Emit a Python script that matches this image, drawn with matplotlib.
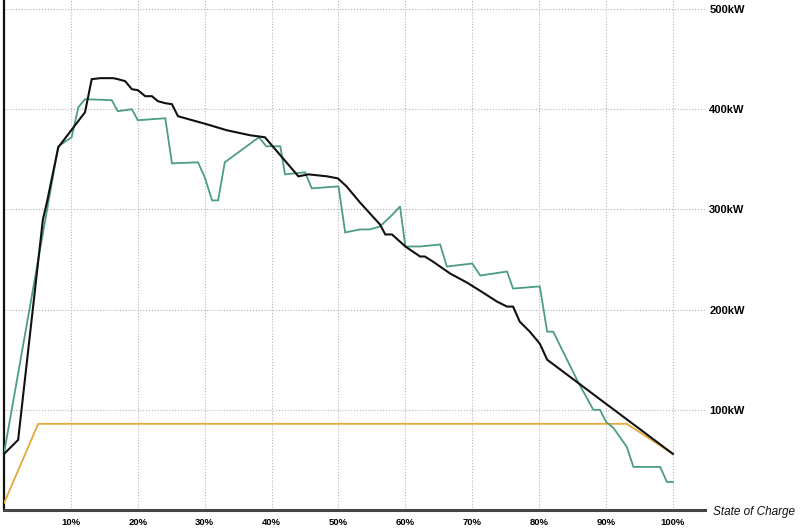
import matplotlib
matplotlib.use("Agg")
import matplotlib.pyplot as plt

# ---- data (State of Charge %, power kW) ----
black_soc = [0, 2.1, 5.8, 6.4, 8.1, 12.1, 13.1, 14.4, 16.3, 17, 18.1, 19.1, 20, 21.1, 22.1,
             23, 24.1, 25.1, 26, 30.3, 33.3, 36.8, 39, 44, 45.5, 48.3, 49.9, 51.2, 53.2,
             56.2, 57, 58, 60, 62.2, 62.9, 64.1, 66.7, 69.2, 71.6, 73.7, 75.2, 76.1, 77.1,
             78.6, 80.1, 81.2, 100]
black_kw = [56, 70, 290, 307, 362, 397, 430, 431, 431, 430, 428, 420, 419, 413, 413,
            408, 406, 405, 393, 385, 379, 374, 372, 333, 335, 333, 331, 323, 307,
            285, 275, 275, 263, 253, 253, 248, 236, 227, 217, 208, 203, 203, 188,
            178, 166, 150, 56]

green_soc = [0, 8.1, 10.1, 11.1, 12.1, 16.1, 17, 19.1, 20, 24.1, 25.1, 29, 30, 31.1, 32,
             33, 38.1, 39.2, 41.3, 42, 45, 46, 50, 51, 53.2, 54.7, 56.2, 58.1, 59.2, 60,
             62.2, 65.2, 66.2, 70, 71.2, 75.2, 76.1, 79.8, 80.1, 81.2, 82.1, 85.8, 88.1,
             89.1, 90, 91.1, 93.1, 94.1, 98.1, 99.1, 100]
green_kw = [57, 363, 372, 402, 410, 409, 398, 400, 389, 391, 346, 347, 332, 309, 309,
            347, 372, 363, 363, 335, 337, 321, 323, 277, 280, 280, 283, 295, 303, 263,
            263, 265, 243, 246, 234, 238, 221, 223, 223, 178, 178, 128, 100,
            100, 88, 82, 63, 43, 43, 28, 28]

orange_soc = [0, 5.1, 93.1, 100]
orange_kw = [7, 86, 86, 56]

x_ticks = [10, 20, 30, 40, 50, 60, 70, 80, 90, 100]
x_labels = ["10%", "20%", "30%", "40%", "50%", "60%", "70%", "80%", "90%", "100%"]
y_ticks = [100, 200, 300, 400, 500]
y_labels = ["100kW", "200kW", "300kW", "400kW", "500kW"]

fig = plt.figure(figsize=(8, 5.28), dpi=100)
ax = fig.add_axes([4.1 / 800, 18 / 528, (705 - 4.1) / 800, 510 / 528])

ax.plot(orange_soc, orange_kw, color="#e6a83a", lw=1.3, zorder=3, solid_joinstyle="miter")
ax.plot(green_soc, green_kw, color="#4c9e7e", lw=1.3, zorder=4, solid_joinstyle="miter")
ax.plot(black_soc, black_kw, color="#111111", lw=1.5, zorder=5, solid_joinstyle="miter")

ax.set_xlim(0, 104.8)
ax.set_ylim(0, 509)

ax.set_xticks(x_ticks)
ax.set_xticklabels(x_labels, fontsize=6.8, fontweight="bold", family="Liberation Sans")
ax.set_yticks(y_ticks)
ax.set_yticklabels(y_labels, fontsize=8, fontweight="bold", family="Liberation Sans")
ax.yaxis.tick_right()
ax.tick_params(axis="both", length=0)
ax.tick_params(axis="x", pad=6)
ax.tick_params(axis="y", pad=3)

ax.grid(True, color="#b4b4b4", linestyle=(0, (1, 1.6)), linewidth=0.8)
ax.set_axisbelow(True)

for s in ["top", "right"]:
    ax.spines[s].set_visible(False)
ax.spines["left"].set_color("#111111")
ax.spines["left"].set_linewidth(1.6)
ax.spines["bottom"].set_color("#444444")
ax.spines["bottom"].set_linewidth(2.2)

fig.text(713 / 800, 1 - 512 / 528, "State of Charge", fontsize=8.5, style="italic",
         family="Liberation Sans", va="center", ha="left", color="#111111")

fig.savefig("out.png", dpi=100)
